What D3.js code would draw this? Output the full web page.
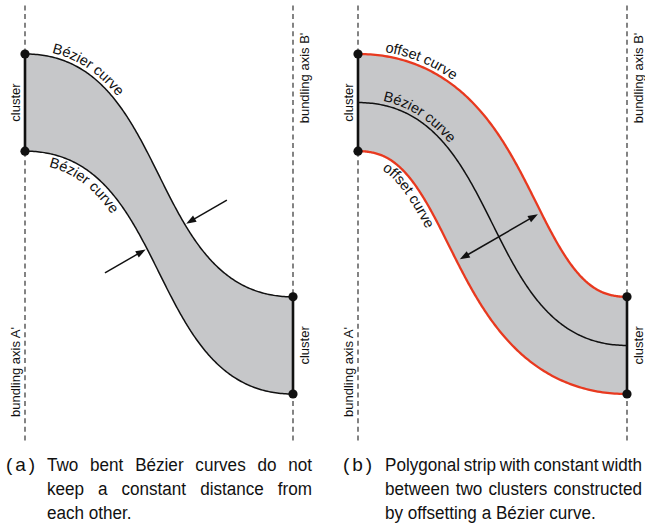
<!DOCTYPE html>
<html>
<head>
<meta charset="utf-8">
<script src="https://cdn.jsdelivr.net/npm/d3@7"></script>
<style>
  html, body { margin: 0; padding: 0; background: #fff; }
  svg { display: block; font-family: "Liberation Sans", Arial, Helvetica, sans-serif; }
</style>
</head>
<body>
<svg id="chart" width="645" height="525"></svg>
<script>
// ---------------- data ----------------
// vertical positions are in "cluster-width" units measured down the bundling axes
const clusterA = [0, 1];            // cluster on axis A'
const clusterB = [2.5, 3.5];        // cluster on axis B'
const axisExtent = [-0.5, 4.0];     // drawn length of the dashed bundling axes
const axisNames = ["bundling axis A'", "bundling axis B'"];
const clusterName = "cluster";
const handle = 0.55;                // Bézier handle length, share of the axis gap
const stripHalfWidth = 0.5;         // half width of the strip in (b)
const labelsA = ["Bézier curve", "Bézier curve"];
const labelsB = ["offset curve", "Bézier curve", "offset curve"];
const arrowParamsA = [0.638, 0.434];  // curve parameter where the (a) arrows point
const arrowParamB = 0.535;            // curve parameter of the width arrow in (b)
const arrowAngle = 30;                // degrees above horizontal
const captionTags = ["(a)", "(b)"];
const captionLinesA = ["Two bent Bézier curves do not", "keep a constant distance from", "each other."];
const captionLinesB = ["Polygonal strip with constant width", "between two clusters constructed", "by offsetting a Bézier curve."];

// ---------------- layout ----------------
const svg = d3.select("#chart");
const y = d3.scaleLinear().domain([0, 3.5]).range([54, 394]);
const xA = d3.scaleLinear().domain([0, 1]).range([25, 293]);
const xB = d3.scaleLinear().domain([0, 1]).range([358, 627]);
const GRAY = "#c6c7c9", RED = "#e8391f", INK = "#111";
const line = d3.line();
const defs = svg.append("defs");

// cubic Bézier leaving axis A' horizontally and arriving horizontally at axis B'
function bezier(x, v0, v1) {
  const p0 = [x(0), y(v0)], p1 = [x(handle), y(v0)],
        p2 = [x(1 - handle), y(v1)], p3 = [x(1), y(v1)];
  return {
    pt(t) {
      const m = 1 - t, b0 = m * m * m, b1 = 3 * m * m * t, b2 = 3 * m * t * t, b3 = t * t * t;
      return [b0 * p0[0] + b1 * p1[0] + b2 * p2[0] + b3 * p3[0],
              b0 * p0[1] + b1 * p1[1] + b2 * p2[1] + b3 * p3[1]];
    },
    // unit normal pointing to the upper/right side of the curve
    normal(t) {
      const m = 1 - t;
      const dx = 3 * m * m * (p1[0] - p0[0]) + 6 * m * t * (p2[0] - p1[0]) + 3 * t * t * (p3[0] - p2[0]);
      const dy = 3 * m * m * (p1[1] - p0[1]) + 6 * m * t * (p2[1] - p1[1]) + 3 * t * t * (p3[1] - p2[1]);
      const l = Math.hypot(dx, dy) || 1;
      return [dy / l, -dx / l];
    }
  };
}

// points of the curve shifted by d pixels along its normal
function offsetPoints(c, d, t0 = 0, t1 = 1, n = 240) {
  return d3.range(n + 1).map(i => {
    const t = t0 + (t1 - t0) * i / n, p = c.pt(t), nm = c.normal(t);
    return [p[0] + d * nm[0], p[1] + d * nm[1]];
  });
}

let pathId = 0;
function curveLabel(g, c, d, text, start) {
  const id = "lbl" + (pathId++);
  defs.append("path").attr("id", id).attr("d", line(offsetPoints(c, d, 0, 0.62)));
  g.append("text").attr("font-size", 14.5).attr("fill", INK)
    .append("textPath").attr("href", "#" + id).attr("startOffset", start).text(text);
}

function arrowHead(g, tip, dir) {
  const L = 10, Wd = 3.6, px = -dir[1], py = dir[0];
  const bx = tip[0] - dir[0] * L, by = tip[1] - dir[1] * L;
  g.append("path")
    .attr("d", `M${tip[0]},${tip[1]}L${bx + px * Wd},${by + py * Wd}L${bx - px * Wd},${by - py * Wd}Z`)
    .attr("fill", INK);
}

function arrowShaft(g, a, b) {
  g.append("line").attr("x1", a[0]).attr("y1", a[1]).attr("x2", b[0]).attr("y2", b[1])
    .attr("stroke", INK).attr("stroke-width", 1.5);
}

function axesAndLabels(g, x) {
  [0, 1].forEach(u => {
    g.append("line").attr("x1", x(u)).attr("x2", x(u))
      .attr("y1", y(axisExtent[0])).attr("y2", y(axisExtent[1]))
      .attr("stroke", "#2a2a2a").attr("stroke-width", 1.15).attr("stroke-dasharray", "5,3.6");
  });
  const vtext = (px, py, s) => g.append("text")
    .attr("transform", `translate(${px},${py}) rotate(-90)`)
    .attr("text-anchor", "middle").attr("font-size", 13).attr("fill", INK).text(s);
  vtext(x(0) - 5.5, 372, axisNames[0]);
  vtext(x(1) + 15.5, 78, axisNames[1]);
  vtext(x(0) - 5.5, y(d3.mean(clusterA)), clusterName);
  vtext(x(1) + 15.5, y(d3.mean(clusterB)), clusterName);
}

function clusters(g, x) {
  [[0, clusterA], [1, clusterB]].forEach(([u, span]) => {
    g.append("line").attr("x1", x(u)).attr("x2", x(u))
      .attr("y1", y(span[0])).attr("y2", y(span[1]))
      .attr("stroke", INK).attr("stroke-width", 2.6);
    span.forEach(v => g.append("circle").attr("cx", x(u)).attr("cy", y(v)).attr("r", 4.6).attr("fill", INK));
  });
}

// ---------------- panel (a): two independent Bézier curves ----------------
{
  const g = svg.append("g");
  axesAndLabels(g, xA);
  const upper = bezier(xA, clusterA[0], clusterB[0]);
  const lower = bezier(xA, clusterA[1], clusterB[1]);
  const up = offsetPoints(upper, 0), lo = offsetPoints(lower, 0);
  g.append("path").attr("d", line(up.concat(lo.slice().reverse())) + "Z").attr("fill", GRAY);
  [up, lo].forEach(p => g.append("path").attr("d", line(p))
    .attr("fill", "none").attr("stroke", INK).attr("stroke-width", 1.5));
  clusters(g, xA);
  curveLabel(g, upper, 4, labelsA[0], 27);
  curveLabel(g, lower, -13, labelsA[1], 24);

  const a = arrowAngle * Math.PI / 180, dir = [Math.cos(a), -Math.sin(a)];
  [[upper, arrowParamsA[0], 1], [lower, arrowParamsA[1], -1]].forEach(([c, t, s]) => {
    const p = c.pt(t), d = [dir[0] * s, dir[1] * s];           // d points from tip to tail
    const tip = [p[0] + d[0] * 1.5, p[1] + d[1] * 1.5];
    const tail = [tip[0] + d[0] * 47, tip[1] + d[1] * 47];
    arrowShaft(g, tail, [tip[0] + d[0] * 8, tip[1] + d[1] * 8]);
    arrowHead(g, tip, [-d[0], -d[1]]);
  });
}

// ---------------- panel (b): strip built by offsetting one Bézier curve ----------------
{
  const g = svg.append("g");
  axesAndLabels(g, xB);
  const mid = bezier(xB, d3.mean(clusterA), d3.mean(clusterB));
  const hw = y(stripHalfWidth) - y(0);
  const top = offsetPoints(mid, hw), bot = offsetPoints(mid, -hw), ctr = offsetPoints(mid, 0);
  g.append("path").attr("d", line(top.concat(bot.slice().reverse())) + "Z").attr("fill", GRAY);
  [top, bot].forEach(p => g.append("path").attr("d", line(p))
    .attr("fill", "none").attr("stroke", RED).attr("stroke-width", 2.3));
  g.append("path").attr("d", line(ctr)).attr("fill", "none").attr("stroke", INK).attr("stroke-width", 1.5);
  clusters(g, xB);
  curveLabel(g, mid, hw + 4, labelsB[0], 27);
  curveLabel(g, mid, 4, labelsB[1], 25);
  curveLabel(g, mid, -hw - 13, labelsB[2], 25);

  const a = arrowAngle * Math.PI / 180, dir = [Math.cos(a), -Math.sin(a)];
  const c = mid.pt(arrowParamB), reach = hw - 3.5;
  const t1 = [c[0] + dir[0] * reach, c[1] + dir[1] * reach];
  const t2 = [c[0] - dir[0] * reach, c[1] - dir[1] * reach];
  arrowShaft(g, [t1[0] - dir[0] * 8, t1[1] - dir[1] * 8], [t2[0] + dir[0] * 8, t2[1] + dir[1] * 8]);
  arrowHead(g, t1, dir);
  arrowHead(g, t2, [-dir[0], -dir[1]]);
}

// ---------------- captions (justified, hanging tag) ----------------
// the caption face is set slightly condensed: words sit in a group scaled by HS horizontally
const CAP_SIZE = 19, HS = 0.9, LINE_H = 24, BASE = 471, TAG_W = 29;
function measure(s) {
  const t = svg.append("text").attr("font-size", CAP_SIZE).text(s);
  const w = t.node().getComputedTextLength();
  t.remove();
  return w;
}
const SPACE = measure("n n") - measure("nn");
function caption(tag, lines, xTag, x0, x1) {
  svg.append("text").attr("x", xTag).attr("y", BASE).attr("font-size", CAP_SIZE).attr("fill", INK)
    .attr("textLength", TAG_W).attr("lengthAdjust", "spacing").text(tag);
  const g = svg.append("g").attr("transform", `translate(${x0},0) scale(${HS},1)`);
  const width = (x1 - x0) / HS;
  lines.forEach((ln, i) => {
    const words = ln.split(" "), ws = words.map(measure);
    const last = i === lines.length - 1;
    const gap = last ? SPACE : (width - d3.sum(ws)) / (words.length - 1);
    let x = 0;
    words.forEach((w, k) => {
      g.append("text").attr("x", x).attr("y", BASE + i * LINE_H)
        .attr("font-size", CAP_SIZE).attr("fill", INK).text(w);
      x += ws[k] + gap;
    });
  });
}
caption(captionTags[0], captionLinesA, 6, 47, 312);
caption(captionTags[1], captionLinesB, 343, 385, 642);
</script>
</body>
</html>
